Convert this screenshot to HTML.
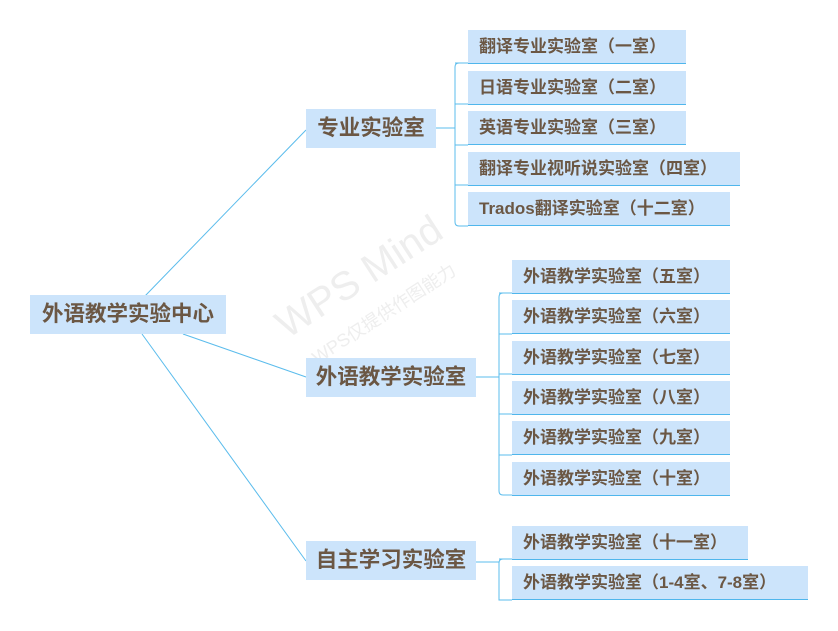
<!DOCTYPE html>
<html><head><meta charset="utf-8"><style>
body{margin:0;width:838px;height:631px;background:#fff;position:relative;overflow:hidden;font-family:"Liberation Sans","Noto Sans CJK SC",sans-serif;font-weight:bold;color:#6b5744}
.b{position:absolute;background:#cce4fb;box-sizing:border-box;white-space:nowrap}
.l{font-size:17px;line-height:33px;padding-left:11px;border-bottom:1px solid #4fb6ec}
.m{font-size:21.5px;line-height:39px;text-align:center}
svg{position:absolute;left:0;top:0}
.wm{position:absolute;color:#eee;transform:rotate(-33deg);font-weight:normal;white-space:nowrap}
</style></head><body>
<div class="wm" style="left:265px;top:255px;font-size:40px">WPS Mind</div>
<div class="wm" style="left:300px;top:300px;font-size:18px">WPS仅提供作图能力</div>
<svg width="838" height="631" fill="none" stroke="#5bbcec" stroke-width="1">
<path d="M145 296L306 130M183 334L306 377M142 334L306 561"/>
<path d="M436 128H455M459 63Q455 63 455 67V222Q455 226 459 226H468M455 104H468M455 145H468M455 185H468M455 63H468"/>
<path d="M476 377H499M503 293Q499 293 499 297V491Q499 495 503 495H512M499 293H512M499 334H512M499 374H512M499 414H512M499 455H512"/>
<path d="M476 562H499M503 559Q499 559 499 563V600H512M499 559H512"/>
</svg>
<div class="b m" style="left:30px;top:295px;width:196px">外语教学实验中心</div>
<div class="b m" style="left:306px;top:109px;width:130px">专业实验室</div>
<div class="b m" style="left:306px;top:358px;width:170px">外语教学实验室</div>
<div class="b m" style="left:306px;top:541px;width:170px">自主学习实验室</div>
<div class="b l" style="left:468px;top:30px;width:218px">翻译专业实验室（一室）</div>
<div class="b l" style="left:468px;top:71px;width:218px">日语专业实验室（二室）</div>
<div class="b l" style="left:468px;top:111px;width:218px">英语专业实验室（三室）</div>
<div class="b l" style="left:468px;top:152px;width:272px">翻译专业视听说实验室（四室）</div>
<div class="b l" style="left:468px;top:192px;width:262px">Trados翻译实验室（十二室）</div>
<div class="b l" style="left:512px;top:260px;width:218px">外语教学实验室（五室）</div>
<div class="b l" style="left:512px;top:300px;width:218px">外语教学实验室（六室）</div>
<div class="b l" style="left:512px;top:341px;width:218px">外语教学实验室（七室）</div>
<div class="b l" style="left:512px;top:381px;width:218px">外语教学实验室（八室）</div>
<div class="b l" style="left:512px;top:421px;width:218px">外语教学实验室（九室）</div>
<div class="b l" style="left:512px;top:462px;width:218px">外语教学实验室（十室）</div>
<div class="b l" style="left:512px;top:526px;width:236px">外语教学实验室（十一室）</div>
<div class="b l" style="left:512px;top:566px;width:296px">外语教学实验室（1-4室、7-8室）</div>
</body></html>
